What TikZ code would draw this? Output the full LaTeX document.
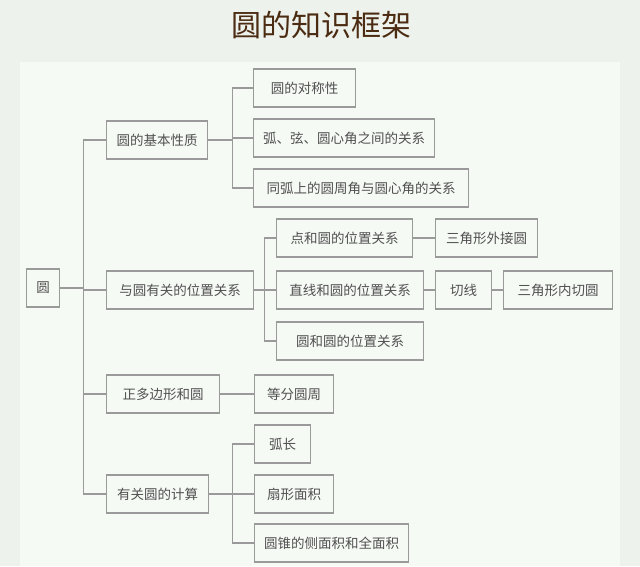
\documentclass[tikz,border=0pt]{standalone}
\usepackage{fontspec}
\usepackage{xcolor}
\newfontfamily\cjk{Noto Sans CJK SC}

\definecolor{pagebg}{HTML}{EEF2ED}
\definecolor{panelbg}{HTML}{F6FAF5}
\definecolor{titlebrown}{HTML}{4B2C12}
\definecolor{boxgray}{HTML}{9A9A9A}
\definecolor{textgray}{HTML}{505050}

\tikzset{
    box/.style={draw=boxgray, line width=1.3pt, fill=panelbg, anchor=west,
        minimum height=38pt, inner sep=0pt, font=\cjk\fontsize{13.5}{14}\selectfont,
        text=textgray},
    link/.style={draw=boxgray, line width=1.1pt}
}

\begin{document}
\begin{tikzpicture}[x=1pt, y=-1pt]
        % Background and panel
        \fill[pagebg] (0,0) rectangle (640,566);
        \fill[panelbg] (20,62) rectangle (620,566);
        \useasboundingbox (0,0) rectangle (640,566);

        % Title
        \node[font=\cjk\fontsize{30}{32}\selectfont, text=titlebrown] (title) at (321,25) {圆的知识框架};

        % Root
        \node[box, minimum width=33] (root) at (26,288) {圆};

        % First level
        \node[box, minimum width=101] (basic) at (106,140) {圆的基本性质};
        \node[box, minimum width=147] (position) at (106,290) {与圆有关的位置关系};
        \node[box, minimum width=113] (polygon) at (106,394) {正多边形和圆};
        \node[box, minimum width=102] (calc) at (106,494) {有关圆的计算};

        % Basic properties
        \node[box, minimum width=102] (symm) at (253,88) {圆的对称性};
        \node[box, minimum width=181] (arcchord) at (253,138) {弧、弦、圆心角之间的关系};
        \node[box, minimum width=215] (inscribed) at (253,188) {同弧上的圆周角与圆心角的关系};

        % Positions
        \node[box, minimum width=136] (point) at (276,238) {点和圆的位置关系};
        \node[box, minimum width=147] (line) at (276,290) {直线和圆的位置关系};
        \node[box, minimum width=147] (circles) at (276,341) {圆和圆的位置关系};
        \node[box, minimum width=102] (circum) at (435,238) {三角形外接圆};
        \node[box, minimum width=56] (tangent) at (435,290) {切线};
        \node[box, minimum width=109] (incircle) at (503,290) {三角形内切圆};

        % Regular polygons
        \node[box, minimum width=79] (divide) at (254,394) {等分圆周};

        % Calculations
        \node[box, minimum width=56] (arclen) at (254,444) {弧长};
        \node[box, minimum width=79] (sector) at (254,494) {扇形面积};
        \node[box, minimum width=154] (cone) at (254,543) {圆锥的侧面积和全面积};

        % Connectors
        \foreach \c in {basic,position,polygon,calc}
            \draw[link] (root.east) -- ++(23,0) |- (\c.west);
        \foreach \c in {symm,arcchord,inscribed}
            \draw[link] (basic.east) -- ++(24,0) |- (\c.west);
        \foreach \c in {point,line,circles}
            \draw[link] (position.east) -- ++(10,0) |- (\c.west);
        \foreach \c in {arclen,sector,cone}
            \draw[link] (calc.east) -- ++(23,0) |- (\c.west);
        \draw[link] (point) -- (circum);
        \draw[link] (line) -- (tangent);
        \draw[link] (tangent) -- (incircle);
        \draw[link] (polygon) -- (divide);

    \end{tikzpicture}
\end{document}
